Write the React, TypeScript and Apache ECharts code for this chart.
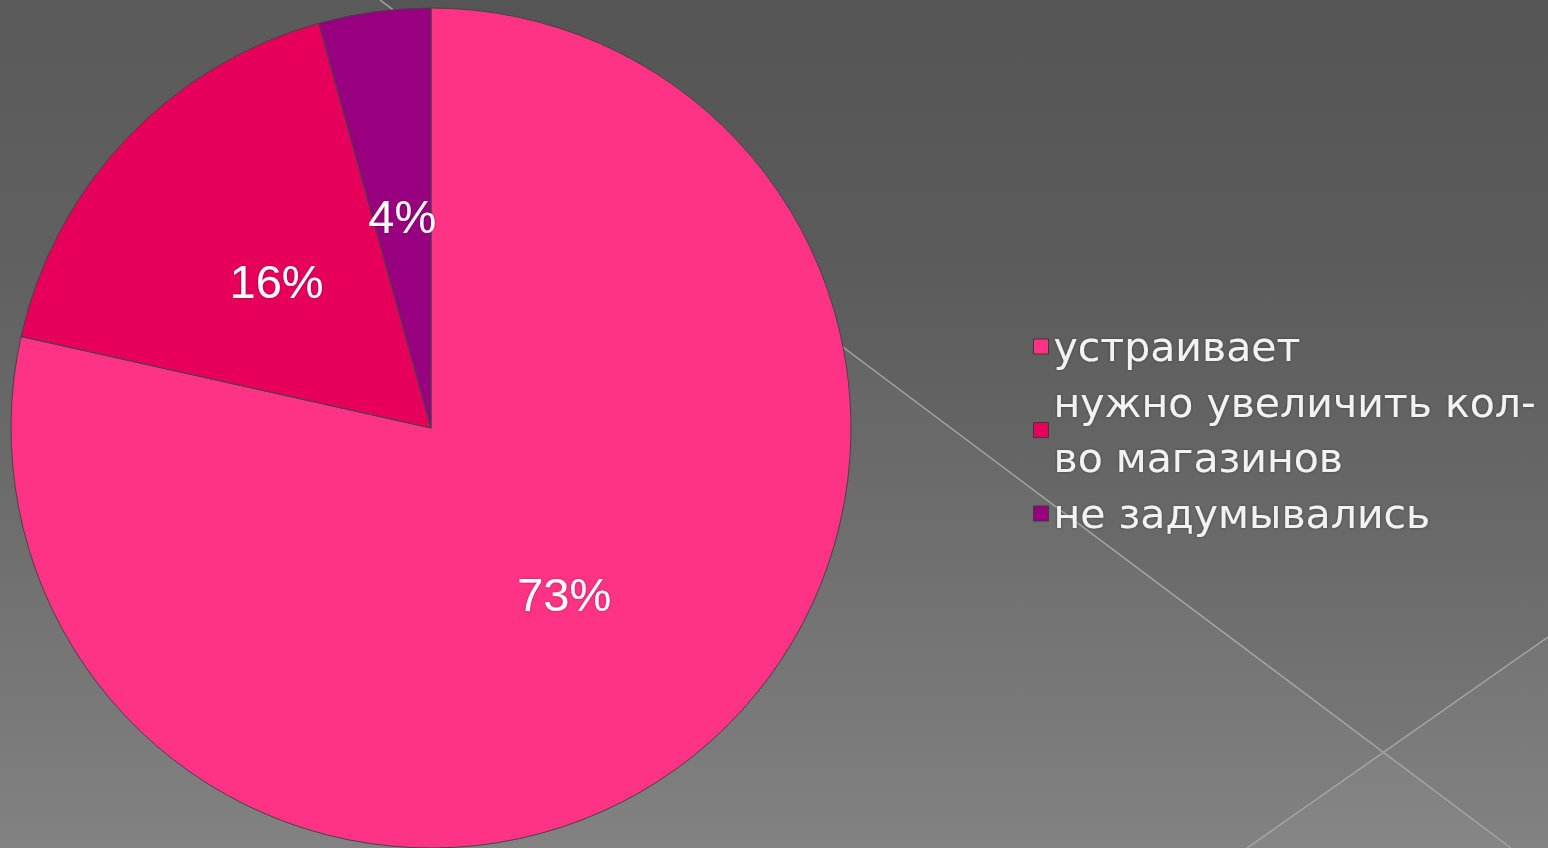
import React, { useEffect, useRef } from "react";
import * as echarts from "echarts";

const categories = ["устраивает", "нужно увеличить кол-во магазинов", "не задумывались"];
const values = [73, 16, 4];
const colors = ["#FF3385", "#E6005C", "#990080"];

const W = 1548;
const H = 848;

export default function App() {
  const ref = useRef<HTMLDivElement>(null);
  useEffect(() => {
    if (!ref.current) return;
    const chart = echarts.init(ref.current, undefined, { renderer: "svg" });
    chart.setOption({
      animation: false,
      backgroundColor: "#5a5a5a",
      graphic: [
        {
          type: "rect",
          z: 0,
          silent: true,
          shape: { x: 0, y: 0, width: W, height: H },
          style: {
            fill: new echarts.graphic.LinearGradient(0, 0, 0, 1, [
              { offset: 0, color: "#555555" },
              { offset: 0.3, color: "#5b5b5b" },
              { offset: 0.65, color: "#6a6a6a" },
              { offset: 1, color: "#7e7e7e" },
            ]),
          },
        },
        {
          type: "polygon",
          z: 1,
          silent: true,
          shape: { points: [[380, 0], [1511, 848], [0, 848], [0, 0]] },
          style: { fill: "rgba(255,255,255,0.035)" },
        },
        {
          type: "polygon",
          z: 1,
          silent: true,
          shape: { points: [[1548, 637], [1247, 848], [1548, 848]] },
          style: { fill: "rgba(255,255,255,0.035)" },
        },
        {
          type: "line",
          z: 1,
          silent: true,
          shape: { x1: 380, y1: 0, x2: 1511, y2: 848 },
          style: { stroke: "#a4a4a4", lineWidth: 1.5 },
        },
        {
          type: "line",
          z: 1,
          silent: true,
          shape: { x1: 1548, y1: 637, x2: 1247, y2: 848 },
          style: { stroke: "#a4a4a4", lineWidth: 1.5 },
        },
      ],
      legend: {
        orient: "vertical",
        left: 1028,
        top: 314,
        itemWidth: 15,
        itemHeight: 15,
        itemGap: 1,
        icon: "rect",
        data: categories,
        itemStyle: { borderColor: "#3a3a3a", borderWidth: 1 },
        formatter: (name: string) => name.replace("кол-во", "кол-\nво"),
        textStyle: {
          fontFamily: "'DejaVu Sans', sans-serif",
          fontSize: 41,
          lineHeight: 55,
          color: "#f2f2f2",
          textShadowColor: "rgba(0,0,0,0.35)",
          textShadowBlur: 3,
        },
      },
      series: [
        {
          type: "pie",
          center: [431, 428],
          radius: 420,
          startAngle: 90,
          clockwise: true,
          avoidLabelOverlap: false,
          itemStyle: { borderColor: "#444444", borderWidth: 1 },
          label: {
            show: true,
            position: "inside",
            formatter: "{c}%",
            fontFamily: "'Liberation Sans', Arial, sans-serif",
            fontSize: 47,
            color: "#ffffff",
            textShadowColor: "rgba(0,0,0,0.3)",
            textShadowBlur: 3,
          },
          labelLine: { show: false },
          emphasis: { disabled: true },
          data: categories.map((name, i) => ({
            name,
            value: values[i],
            itemStyle: { color: colors[i] },
          })),
        },
      ],
    });
    return () => chart.dispose();
  }, []);
  return (
    <div
      ref={ref}
      style={{ position: "fixed", left: 0, top: 0, width: W, height: H }}
    />
  );
}
